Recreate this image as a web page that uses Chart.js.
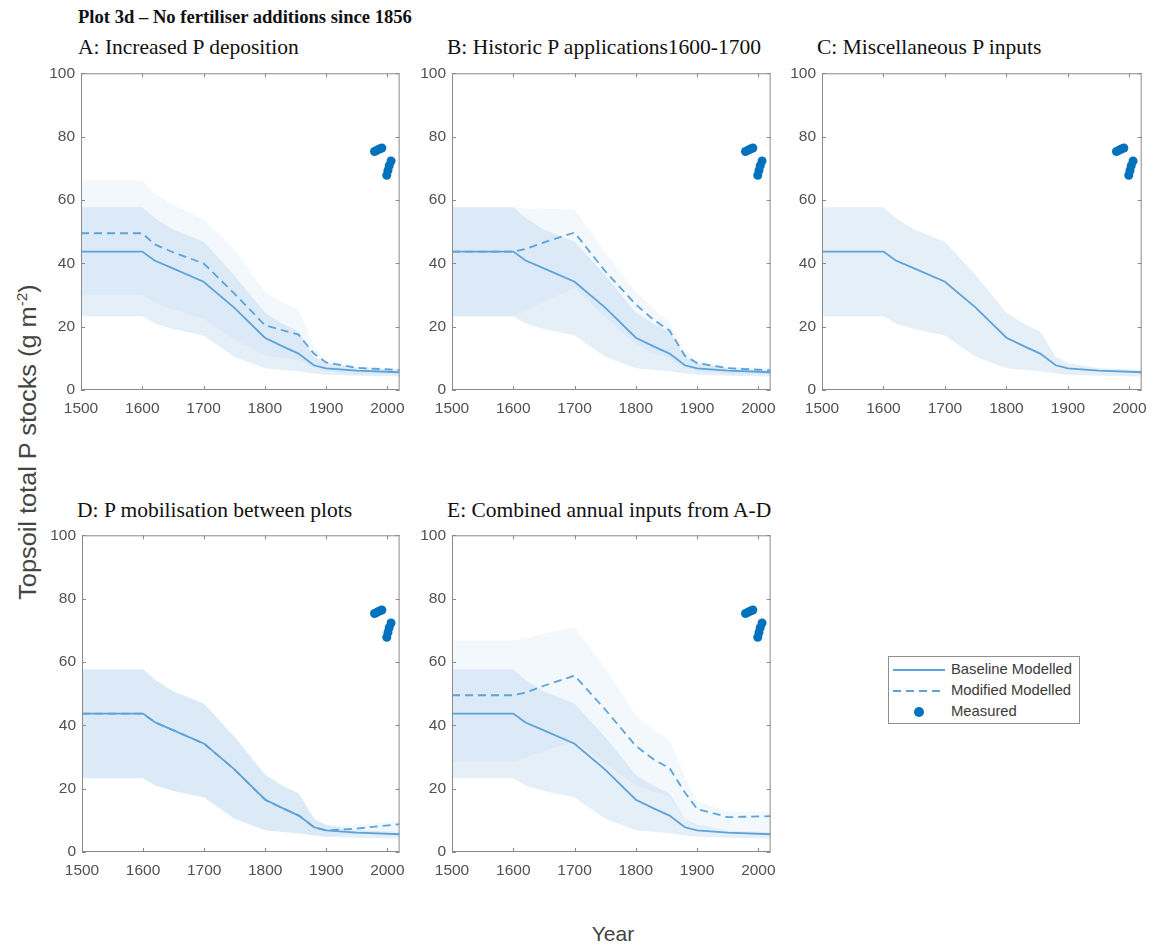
<!DOCTYPE html>
<html>
<head>
<meta charset="utf-8">
<script src="https://cdn.jsdelivr.net/npm/chart.js@4.4.1/dist/chart.umd.min.js"></script>
<style>
  body { margin: 0; background: #fff; width: 1157px; height: 947px; position: relative; overflow: hidden; }
  canvas { position: absolute; }
  .ttl { position: absolute; font-family: "Liberation Serif", "Times New Roman", serif; color: #111; white-space: nowrap; line-height: 24px; }
  .lab { position: absolute; font-family: "Liberation Sans", Arial, sans-serif; color: #444; white-space: nowrap; text-align: center; }
  #legend { position: absolute; left: 888px; top: 656px; width: 190px; height: 66px; border: 1px solid #8f8f8f; background: #fff;
            font-family: "Liberation Sans", Arial, sans-serif; font-size: 14.8px; color: #3a3a3a; }
  #legend .row { position: absolute; left: 0; height: 20px; width: 190px; }
  #legend svg { position: absolute; left: 4px; top: 0; }
  #legend span { position: absolute; left: 62px; top: 1px; }
</style>
</head>
<body>

<div class="ttl" style="left:78px; top:5px; font-size:18.6px; font-weight:bold;">Plot 3d – No fertiliser additions since 1856</div>
<div class="ttl" style="left:78px; top:35px; font-size:21.5px;">A: Increased P deposition</div>
<div class="ttl" style="left:447px; top:35px; font-size:21.5px;">B: Historic P applications1600-1700</div>
<div class="ttl" style="left:817px; top:35px; font-size:21.5px;">C: Miscellaneous P inputs</div>
<div class="ttl" style="left:77px; top:498px; font-size:21.5px;">D: P mobilisation between plots</div>
<div class="ttl" style="left:447px; top:498px; font-size:21.5px;">E: Combined annual inputs from A-D</div>

<div class="lab" style="left:-178px; top:429px; width:400px; height:26px; line-height:26px; font-size:23px; transform:rotate(-90deg) scaleX(1.1);">Topsoil total P stocks (g m<sup style="font-size:14px;">-2</sup>)</div>
<div class="lab" style="left:563px; top:922px; width:100px; line-height:24px; font-size:21px;">Year</div>

<canvas id="cA" width="374" height="358" style="left:40px; top:58px;"></canvas>
<canvas id="cB" width="374" height="358" style="left:411px; top:58px;"></canvas>
<canvas id="cC" width="375" height="358" style="left:781px; top:58px;"></canvas>
<canvas id="cD" width="373" height="358" style="left:41px; top:520px;"></canvas>
<canvas id="cE" width="374" height="358" style="left:411px; top:520px;"></canvas>

<div id="legend">
  <div class="row" style="top:3px;">
    <svg width="54" height="20"><line x1="0" y1="10" x2="52" y2="10" stroke="#5da3d9" stroke-width="2"/></svg>
    <span>Baseline Modelled</span>
  </div>
  <div class="row" style="top:24px;">
    <svg width="54" height="20"><line x1="0" y1="10" x2="52" y2="10" stroke="#5da3d9" stroke-width="2" stroke-dasharray="8,5"/></svg>
    <span>Modified Modelled</span>
  </div>
  <div class="row" style="top:45px;">
    <svg width="54" height="20"><circle cx="26" cy="10" r="5" fill="#0072bd"/></svg>
    <span>Measured</span>
  </div>
</div>

<script>
// model time points (years)
const years = [1500, 1600, 1620, 1650, 1700, 1750, 1800, 1830, 1855, 1880, 1900, 1950, 2020]

// baseline modelled run, same in all panels
const baseline      = [43.7, 43.7, 40.9, 38.4, 34.2, 26.0, 16.5, 13.7, 11.5, 7.8, 6.8, 6.1, 5.6]
const baselineUpper = [57.7, 57.7, 54.3, 50.7, 46.8, 36.3, 24.4, 20.8, 18.5, 10.5, 8.5, 6.9, 6.4]
const baselineLower = [23.3, 23.3, 21.0, 19.3, 17.2, 10.5, 6.9, 6.3, 5.9, 5.2, 4.8, 4.5, 4.3]

// A: increased P deposition
const modA      = [49.5, 49.5, 46.0, 43.5, 40.0, 30.5, 20.5, 18.8, 17.5, 11.5, 8.7, 7.0, 6.3]
const modAUpper = [66.2, 66.2, 62.0, 58.5, 53.8, 44.5, 31.0, 27.5, 25.5, 13.6, 9.5, 7.4, 6.9]
const modALower = [30.1, 30.1, 27.5, 25.5, 22.5, 16.0, 11.0, 10.0, 9.5, 7.0, 6.0, 5.0, 4.8]

// B: historic P applications 1600-1700
const modB      = [43.7, 43.7, 44.5, 46.6, 49.7, 37.5, 27.0, 22.0, 18.8, 10.8, 8.5, 6.9, 6.2]
const modBUpper = [57.7, 57.7, 57.3, 57.2, 57.0, 43.5, 31.0, 25.5, 21.5, 12.5, 9.5, 7.4, 6.9]
const modBLower = [23.3, 23.3, 25.0, 28.0, 32.2, 23.0, 14.5, 11.5, 10.0, 7.0, 6.0, 5.0, 4.8]

// D: P mobilisation between plots
const modD      = [43.7, 43.7, 40.9, 38.4, 34.2, 26.0, 16.5, 13.7, 11.5, 7.8, 6.8, 7.4, 8.8]
const modDUpper = [57.7, 57.7, 54.3, 50.7, 46.8, 36.3, 24.4, 20.8, 18.5, 10.5, 8.5, 8.6, 9.8]
const modDLower = [23.3, 23.3, 21.0, 19.3, 17.2, 10.5, 6.9, 6.3, 5.9, 5.2, 4.8, 5.5, 6.5]

// E: combined annual inputs from A-D
const modE      = [49.5, 49.5, 50.3, 52.5, 55.7, 45.0, 33.5, 29.1, 26.5, 18.8, 13.6, 11.0, 11.3]
const modEUpper = [66.8, 66.8, 67.5, 69.0, 70.9, 58.0, 43.0, 38.5, 35.3, 24.0, 16.0, 12.8, 12.8]
const modELower = [28.6, 28.6, 29.8, 31.8, 35.0, 28.0, 21.0, 19.0, 17.5, 10.5, 8.0, 7.0, 6.5]

// measured topsoil P stocks
const measYears  = [1979, 1983, 1987, 1991, 1999, 2001, 2003, 2006]
const measValues = [75.3, 75.7, 76.1, 76.4, 67.8, 69.3, 70.8, 72.3]

const xTicks = [1500, 1600, 1700, 1800, 1900, 2000]
const yTicks = [0, 20, 40, 60, 80, 100]

const lineColor = '#5da3d9'
const dotColor = '#0072bd'
const bandBase = 'rgba(91,155,213,0.16)'
const bandMod = 'rgba(91,155,213,0.075)'

function pts(xs, ys) {
    return xs.map((x, i) => ({x: x, y: ys[i]}))
}

//draw matlab style box with inward ticks
const framePlugin = {
    id: 'frame',
    afterDatasetsDraw(chart) {
        const {ctx, chartArea: a, scales} = chart
        ctx.save()
        ctx.strokeStyle = '#8a8a8a'
        ctx.lineWidth = 1
        ctx.strokeRect(a.left + 0.5, a.top + 0.5, a.width - 1, a.height - 1)
        ctx.beginPath()
        xTicks.forEach(v => {
            const px = Math.round(scales.x.getPixelForValue(v)) + 0.5
            ctx.moveTo(px, a.bottom); ctx.lineTo(px, a.bottom - 4)
            ctx.moveTo(px, a.top); ctx.lineTo(px, a.top + 4)
        })
        yTicks.forEach(v => {
            const py = Math.round(scales.y.getPixelForValue(v)) + 0.5
            ctx.moveTo(a.left, py); ctx.lineTo(a.left + 4, py)
            ctx.moveTo(a.right, py); ctx.lineTo(a.right - 4, py)
        })
        ctx.stroke()
        ctx.restore()
    }
}

function makePanel(id, mod, modUpper, modLower) {
    const datasets = []
    const band = (data, fill, color) => ({
        data: pts(years, data), fill: fill, backgroundColor: color,
        borderWidth: 0, pointRadius: 0, order: 3
    })
    if (mod) {
        datasets.push(band(modUpper, '+1', bandMod))
        datasets.push(band(modLower, false, 'transparent'))
    }
    datasets.push(band(baselineUpper, '+1', bandBase))
    datasets.push(band(baselineLower, false, 'transparent'))
    if (mod) {
        datasets.push({
            data: pts(years, mod), borderColor: lineColor, borderWidth: 1.8,
            borderDash: [8, 5], pointRadius: 0, fill: false, order: 2
        })
    }
    datasets.push({
        data: pts(years, baseline), borderColor: lineColor, borderWidth: 1.8,
        pointRadius: 0, fill: false, order: 1
    })
    datasets.push({
        data: pts(measYears, measValues), showLine: false, pointRadius: 4.5,
        pointBackgroundColor: dotColor, pointBorderWidth: 0, order: 0
    })

    new Chart(id, {
        type: 'line',
        data: {datasets: datasets},
        options: {
            responsive: false,
            animation: false,
            layout: {padding: {top: 10, right: 10, left: 0, bottom: 0}},
            plugins: {legend: {display: false}, tooltip: {enabled: false}},
            scales: {
                x: {
                    type: 'linear', min: 1500, max: 2020,
                    grid: {display: false, drawTicks: false}, border: {display: false},
                    afterFit: (s) => { s.height = 26 },
                    ticks: {
                        stepSize: 100, includeBounds: false, autoSkip: false, maxRotation: 0,
                        padding: 9, color: '#505050', callback: (v) => String(v),
                        font: {family: 'Liberation Sans', size: 15.5}
                    }
                },
                y: {
                    min: 0, max: 100,
                    grid: {display: false, drawTicks: false}, border: {display: false},
                    afterFit: (s) => { s.width = 41 },
                    ticks: {
                        stepSize: 20, padding: 6, color: '#505050',
                        font: {family: 'Liberation Sans', size: 15.5}
                    }
                }
            }
        },
        plugins: [framePlugin]
    })
}

makePanel('cA', modA, modAUpper, modALower)
makePanel('cB', modB, modBUpper, modBLower)
makePanel('cC', null)
makePanel('cD', modD, modDUpper, modDLower)
makePanel('cE', modE, modEUpper, modELower)
</script>
</body>
</html>
